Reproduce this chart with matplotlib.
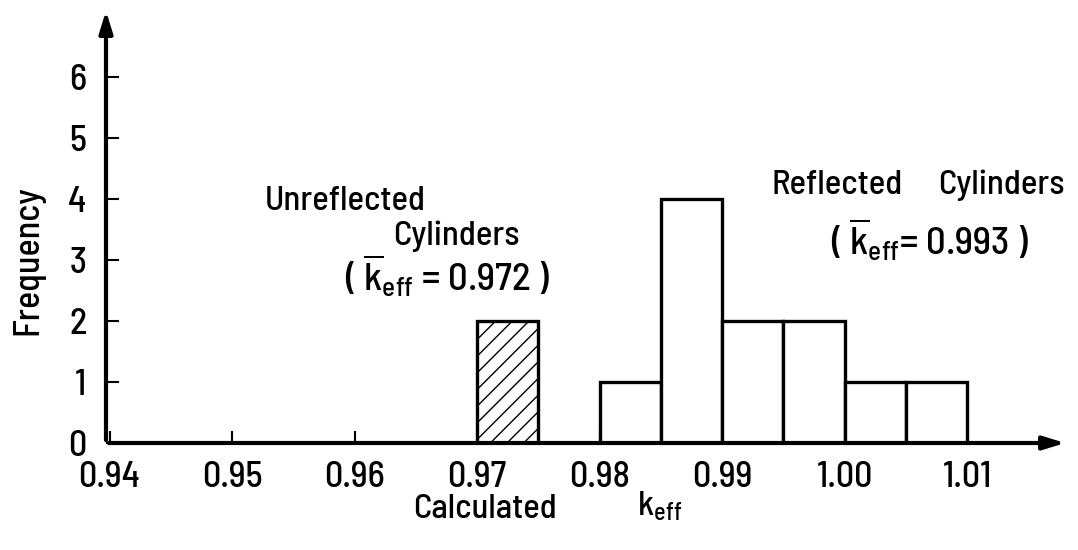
import matplotlib
matplotlib.use("Agg")
import matplotlib.pyplot as plt
from matplotlib.patches import FancyArrowPatch

FONT = 'Barlow Semi Condensed'
plt.rcParams['font.family'] = [FONT, 'DejaVu Sans']
plt.rcParams['font.weight'] = 'medium'
plt.rcParams['mathtext.fontset'] = 'custom'
plt.rcParams['mathtext.rm'] = FONT + ':medium'
plt.rcParams['mathtext.it'] = FONT + ':medium'
plt.rcParams['hatch.linewidth'] = 1.0

# Histogram data: bin left edges (k_eff), bin width, counts
bin_width = 0.005
unreflected_edges = [0.970]
unreflected_counts = [2]
reflected_edges = [0.980, 0.985, 0.990, 0.995, 1.000, 1.005]
reflected_counts = [1, 4, 2, 2, 1, 1]

x_ticks = [0.94, 0.95, 0.96, 0.97, 0.98, 0.99, 1.00, 1.01]
x_tick_labels = ['0.94', '0.95', '0.96', '0.97', '0.98', '0.99', '1.00', '1.01']
y_ticks = [0, 1, 2, 3, 4, 5, 6]

W, H = 1078, 550
fig = plt.figure(figsize=(W / 100, H / 100), dpi=100)
x0_px, x1_px = 106, 1068
y0_px, y1_px = 443, 8
ax = fig.add_axes([x0_px / W, 1 - y0_px / H, (x1_px - x0_px) / W, (y0_px - y1_px) / H])

px_per_unit_x = 12250.0
xmin = 0.94 - (109.5 - x0_px) / px_per_unit_x
xmax = xmin + (x1_px - x0_px) / px_per_unit_x
px_per_unit_y = 61.0
ymax = (y0_px - y1_px) / px_per_unit_y
ax.set_xlim(xmin, xmax)
ax.set_ylim(0, ymax)

ax.bar(unreflected_edges, unreflected_counts, width=bin_width, align='edge',
       facecolor='white', edgecolor='black', linewidth=2.4, hatch='//', zorder=3)
ax.bar(reflected_edges, reflected_counts, width=bin_width, align='edge',
       facecolor='white', edgecolor='black', linewidth=2.4, zorder=3)

for s in ax.spines.values():
    s.set_visible(False)

# Axes drawn as arrows
arrow_kw = dict(transform=ax.transAxes, arrowstyle='-|>,head_length=13,head_width=4',
                mutation_scale=1, lw=3, color='black', clip_on=False, zorder=5)
ax.add_patch(FancyArrowPatch((0, 0), (1, 0), **arrow_kw))
ax.add_patch(FancyArrowPatch((0, 0), (0, 1), **arrow_kw))

ax.set_xticks(x_ticks)
ax.set_xticklabels(x_tick_labels)
ax.set_yticks(y_ticks)
ax.tick_params(axis='both', direction='in', length=9, width=1.5,
               labelsize=26, colors='black')
ax.tick_params(axis='x', pad=13)
ax.tick_params(axis='y', pad=14)

ax.set_ylabel('Frequency', fontsize=26, fontweight='medium')
ax.yaxis.set_label_coords(-0.064, 0.42)

def ftext(x, y, s, size=25):
    fig.text(x / W, 1 - y / H, s, fontsize=size, va='center', ha='left')

kbar = r'$\overline{\mathrm{k}}_{\mathrm{eff}}$'
ftext(413, 509, 'Calculated')
ftext(637, 506, r'k$_{\mathrm{eff}}$')
ftext(265, 202, 'Unreflected')
ftext(393, 236, 'Cylinders')
ftext(345, 276, '( ' + kbar + ' = 0.972 )', size=28)
ftext(772, 185, 'Reflected')
ftext(938, 185, 'Cylinders')
ftext(831, 240, '( ' + kbar + '= 0.993 )', size=28)

fig.savefig('out.png', dpi=100, facecolor='white')
